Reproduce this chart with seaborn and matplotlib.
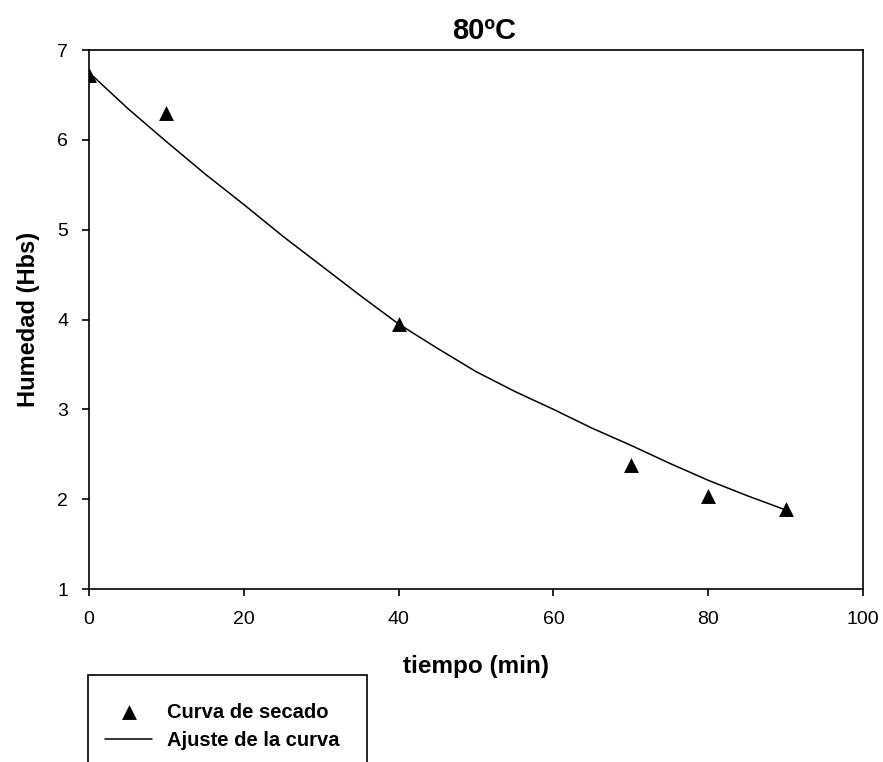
import matplotlib
matplotlib.use("Agg")
import matplotlib.pyplot as plt
import seaborn as sns
import pandas as pd

# Data
tiempo_obs = [0, 10, 40, 70, 80, 90]
humedad_obs = [6.72, 6.30, 3.95, 2.38, 2.03, 1.89]

tiempo_fit = [0, 5, 10, 15, 20, 25, 30, 35, 40, 45, 50, 55, 60, 65, 70, 75, 80, 85, 90]
humedad_fit = [6.75, 6.35, 5.98, 5.62, 5.28, 4.93, 4.60, 4.27, 3.95, 3.68, 3.42, 3.20,
               3.00, 2.79, 2.60, 2.40, 2.21, 2.04, 1.88]

title = "80ºC"
xlabel = "tiempo (min)"
ylabel = "Humedad (Hbs)"
label_obs = "Curva de secado"
label_fit = "Ajuste de la curva"
xticks = [0, 20, 40, 60, 80, 100]
yticks = [1, 2, 3, 4, 5, 6, 7]

df_obs = pd.DataFrame({"t": tiempo_obs, "h": humedad_obs})
df_fit = pd.DataFrame({"t": tiempo_fit, "h": humedad_fit})

sns.set_theme(style="white")
plt.rcParams["font.family"] = ["Liberation Sans", "DejaVu Sans"]
plt.rcParams["text.color"] = "black"
plt.rcParams["axes.labelcolor"] = "black"
plt.rcParams["xtick.color"] = "black"
plt.rcParams["ytick.color"] = "black"

fig = plt.figure(figsize=(8.83, 7.62), dpi=100)
ax = fig.add_axes([89 / 883, 1 - 589 / 762, (863 - 89) / 883, (589 - 50) / 762])

sns.lineplot(data=df_fit, x="t", y="h", ax=ax, color="black", linewidth=1.1,
             label=label_fit, legend=False)
sns.scatterplot(data=df_obs, x="t", y="h", ax=ax, color="black", marker="^", s=115,
                edgecolor="black", linewidth=0, label=label_obs, legend=False, zorder=3)

ax.set_xlim(0, 100)
ax.set_ylim(1, 7)
ax.set_xticks(xticks)
ax.set_yticks(yticks)
ax.tick_params(direction="out", length=5, width=1.2, labelsize=14, colors="black",
               bottom=True, left=True, top=False, right=False, pad=10)
ax.tick_params(axis="x", pad=11)
for sp in ax.spines.values():
    sp.set_color("black")
    sp.set_linewidth(1.2)
    sp.set_visible(True)

ax.set_title(title, fontsize=21, fontweight="bold", pad=8, x=0.51)
ax.set_xlabel(xlabel, fontsize=17.5, fontweight="bold", labelpad=19)
ax.set_ylabel(ylabel, fontsize=17, fontweight="bold", labelpad=12)

handles, labels = ax.get_legend_handles_labels()
order = [labels.index(label_obs), labels.index(label_fit)]
leg = fig.legend([handles[i] for i in order], [labels[i] for i in order],
                 loc="upper left", bbox_to_anchor=(88 / 883, 1 - 683 / 762, 279 / 883, 0.01),
                 bbox_transform=fig.transFigure, mode="expand",
                 frameon=True, fancybox=False, edgecolor="black", framealpha=1,
                 prop={"weight": "bold", "size": 14.5}, handlelength=2.34,
                 handletextpad=0.73, labelspacing=0.45, borderpad=0.85, borderaxespad=0,
                 title=" ", title_fontsize=1)
leg.get_frame().set_linewidth(1.2)

fig.savefig("out.png", dpi=100)
